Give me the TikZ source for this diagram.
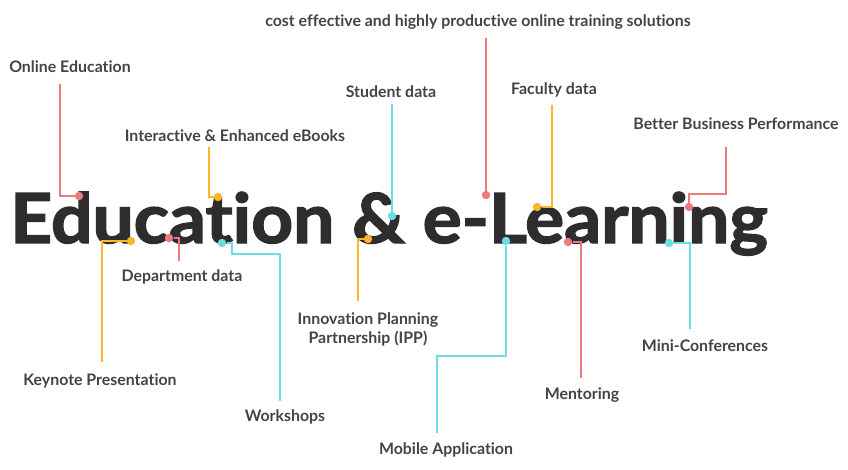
\documentclass[tikz,border=0pt]{standalone}
\usepackage{fontspec}
\setmainfont{Lato}[Ligatures=NoCommon]
\newfontfamily\headfont{Lato}[Ligatures=NoCommon, FakeBold=2]
\usepackage{xcolor}
\usetikzlibrary{calc, positioning}

\definecolor{linkred}{RGB}{233,124,124}
\definecolor{linkorange}{RGB}{251,182,46}
\definecolor{linkcyan}{RGB}{107,221,230}
\definecolor{textgray}{RGB}{68,67,69}
\definecolor{titlegray}{RGB}{46,44,45}

\begin{document}
\begin{tikzpicture}[
    x=0.025cm, y=-0.025cm,
    headline/.style={inner sep=0pt, text=titlegray, font=\headfont\fontsize{49}{52}\selectfont\bfseries},
    itemtext/.style={inner sep=0pt, anchor=base, text=textgray, align=center, font=\fontsize{11.3}{13.5}\selectfont\bfseries},
    dot/.style={circle, fill=#1, inner sep=0pt, minimum size=6pt},
    link/.style={draw=#1, line width=1.4pt}
]
\useasboundingbox (0,0) rectangle (848,469);

% ===== TITLE =====
\node[headline, anchor=base] (heading) at (389,243) {\scalebox{1.06}[1]{Education \& e-Learning}};

% ===== LABELS ABOVE =====
\node[itemtext] (online) at (70,72) {Online Education};
\node[itemtext] (ebooks) at (235,141) {Interactive \& Enhanced eBooks};
\node[itemtext] (student) at (391,97) {Student data};
\node[itemtext] (costeff) at (478,26) {cost effective and highly productive online training solutions};
\node[itemtext] (faculty) at (554,94) {Faculty data};
\node[itemtext] (business) at (736,129) {Better Business Performance};

% ===== LABELS BELOW =====
\node[itemtext] (department) at (182,281) {Department data};
\node[itemtext] (keynote) at (100,385) {Keynote Presentation};
\node[itemtext] (workshops) at (285,421) {Workshops};
\node[itemtext] (ipp) at (368,343) {Innovation Planning\\Partnership (IPP)};
\node[itemtext] (mobile) at (446,454) {Mobile Application};
\node[itemtext] (mentoring) at (582,399) {Mentoring};
\node[itemtext] (miniconf) at (705,351) {Mini-Conferences};

% ===== DOTS ON THE TITLE =====
\node[dot=linkred] (online_dot) at (79,196) {};
\node[dot=linkorange] (ebooks_dot) at (218,197) {};
\node[dot=linkcyan] (student_dot) at (392,216) {};
\node[dot=linkred] (costeff_dot) at (486,195) {};
\node[dot=linkorange] (faculty_dot) at (537,207) {};
\node[dot=linkred] (business_dot) at (689,207) {};
\node[dot=linkred] (department_dot) at (169,238) {};
\node[dot=linkorange] (keynote_dot) at (131,241) {};
\node[dot=linkcyan] (workshops_dot) at (222,243) {};
\node[dot=linkorange] (ipp_dot) at (368,239) {};
\node[dot=linkcyan] (mobile_dot) at (506,241) {};
\node[dot=linkred] (mentoring_dot) at (568,242) {};
\node[dot=linkcyan] (miniconf_dot) at (669,243) {};

% ===== CONNECTORS: upper labels =====
\draw[link=linkred] ($(online.base)+(-10,12)$) |- (online_dot);
\draw[link=linkorange] ($(ebooks.base)+(-26,6)$) |- (ebooks_dot);
\draw[link=linkcyan] ($(student.base)+(1,7)$) -- (student_dot);
\draw[link=linkred] ($(costeff.base)+(8,12)$) -- (costeff_dot);
\draw[link=linkorange] ($(faculty.base)+(-2,11)$) |- (faculty_dot);
\draw[link=linkred] (business_dot) -- ++(0,-13) -| ($(business.base)+(-10,18)$);

% ===== CONNECTORS: lower labels =====
\draw[link=linkred] ($(department.base)+(-3,-20)$) |- (department_dot);
\draw[link=linkorange] ($(keynote.base)+(2,-23)$) |- (keynote_dot);
\draw[link=linkcyan] (workshops_dot) -- ++(10,0) -- ++(0,11) -| ($(workshops.base)+(-5,-20)$);
\draw[link=linkorange] ($(ipp.base)+(-10,-42)$) |- (ipp_dot);
\draw[link=linkcyan] (mobile_dot) -- ++(0,115) -| ($(mobile.base)+(-9,-21)$);
\draw[link=linkred] (mentoring_dot) -| ($(mentoring.base)+(-1,-21)$);
\draw[link=linkcyan] (miniconf_dot) -| ($(miniconf.base)+(-15,-22)$);

\end{tikzpicture}
\end{document}
